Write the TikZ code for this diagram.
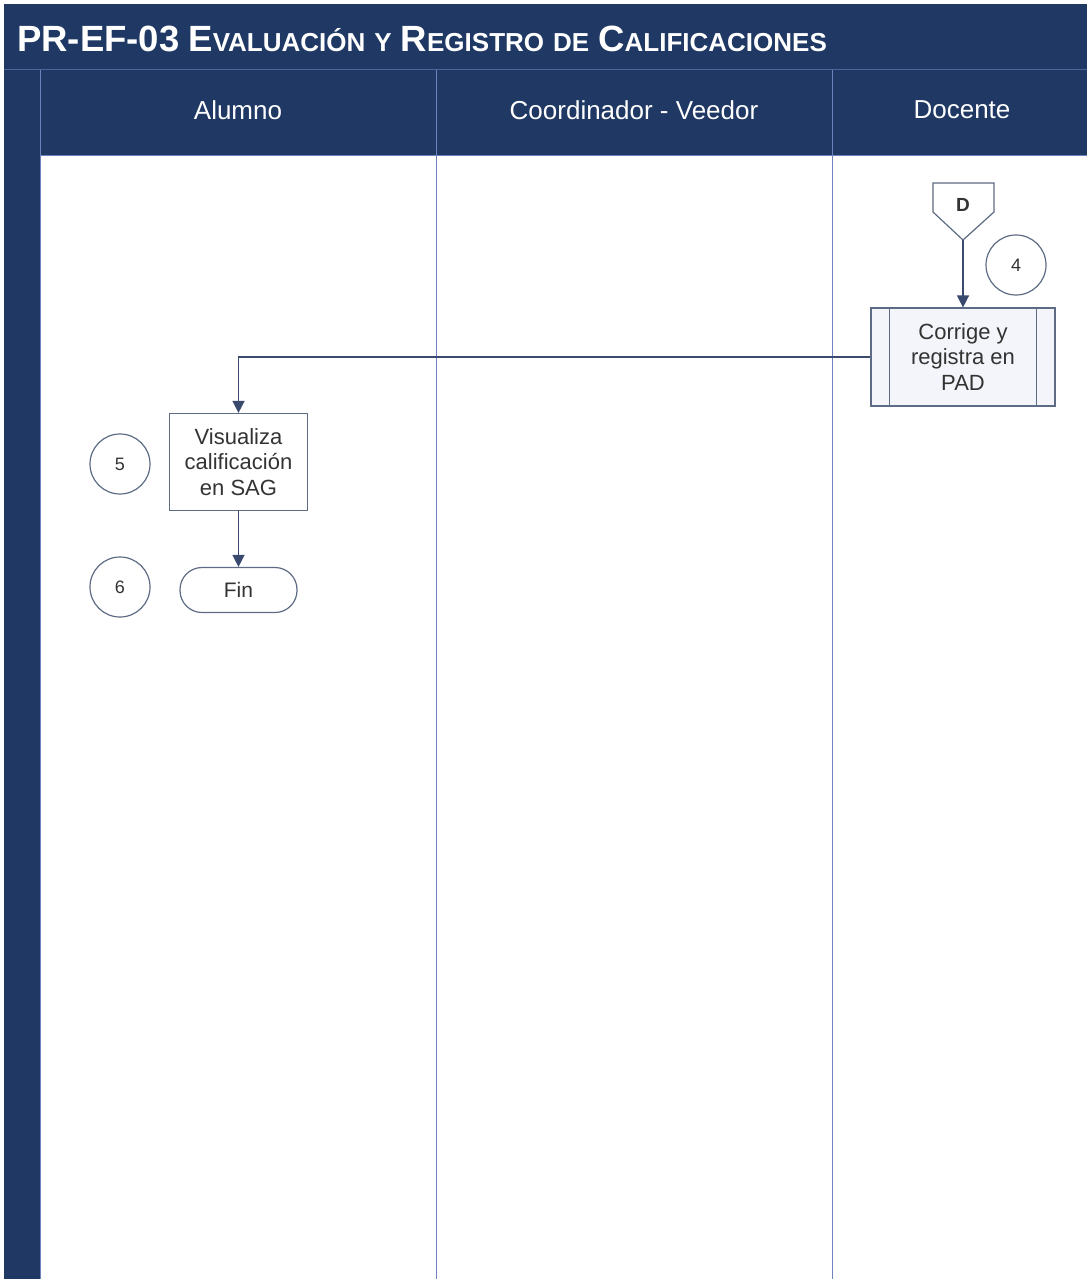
\documentclass[tikz,border=0pt]{standalone}
\usepackage{fontspec}
\setmainfont{Liberation Sans}
\usetikzlibrary{arrows.meta,shapes.geometric}
\definecolor{navy}{HTML}{1F3864}
\definecolor{lanesep}{HTML}{6F82BE}
\definecolor{boxline}{HTML}{5E6B84}
\definecolor{boxfill}{HTML}{F3F5FA}
\definecolor{flow}{HTML}{3A4A6E}
\newcommand{\scw}[2]{{\fontsize{36.5}{36.5}\selectfont #1}{\fontsize{26}{26}\selectfont #2}}
\newcommand{\tsp}{\hspace{9pt}}
\tikzset{
  lanetitle/.style={text=white,font=\fontsize{26}{26}\selectfont},
  procbox/.style={draw=boxline,line width=1.2pt,fill=white,align=center,inner sep=2pt,
    font=\fontsize{22}{25.5}\selectfont,text=black!80},
  stepnum/.style={circle,draw=boxline,line width=1.2pt,minimum size=60pt,inner sep=0pt,
    font=\fontsize{18}{18}\selectfont,text=black!80},
  flowarrow/.style={draw=flow,line width=1.4pt,-{Triangle[width=12pt,length=12pt]}},
}
\begin{document}
\begin{tikzpicture}[x=1pt,y=-1pt]
\useasboundingbox (0,0) rectangle (1087,1279);
\fill[white] (0,0) rectangle (1087,1279);
% header bands
\fill[navy] (4,4) rectangle (1087,155);
\fill[navy] (4,155) rectangle (40,1279);
\draw[lanesep!60!navy,line width=1pt] (4,70) -- (1087,70);
\draw[lanesep,line width=1pt] (40,70) -- (40,1279);
\draw[lanesep,line width=1pt] (436,70) -- (436,1279);
\draw[lanesep,line width=1pt] (832,70) -- (832,1279);
\draw[lanesep,line width=1pt] (40,155) -- (1087,155);
% title
\node[anchor=west,text=white,font=\bfseries,inner sep=0pt] (title) at (17,39)
  {\scw{PR-EF-03}{}\tsp\scw{E}{VALUACIÓN}\tsp\scw{}{Y}\tsp\scw{R}{EGISTRO}\tsp\scw{}{DE}\tsp\scw{C}{ALIFICACIONES}};
% lane titles
\node[lanetitle] (l1) at (238,110) {Alumno};
\node[lanetitle] (l2) at (634,110) {Coordinador - Veedor};
\node[lanetitle] (l3) at (962,110) {Docente};
% off-page connector D
\draw[boxline,line width=1.2pt,fill=white] (933,183) -- (994,183) -- (994,212) -- (963,240) -- (933,212) -- cycle;
\coordinate (dtip) at (963,240);
\node[font=\bfseries\fontsize{19}{19}\selectfont,text=black!80] (dlabel) at (963,205) {D};
\node[stepnum] (n4) at (1016,265) {4};
% predefined process
\node[procbox,fill=boxfill,minimum width=184pt,minimum height=98pt] (corr) at (963,357)
  {Corrige y\\registra en\\PAD};
\draw[boxline,line width=1.2pt] ([xshift=19pt]corr.north west) -- ([xshift=19pt]corr.south west);
\draw[boxline,line width=1.2pt] ([xshift=-19pt]corr.north east) -- ([xshift=-19pt]corr.south east);
\draw[flowarrow] (dtip) -- (corr.north);
% Alumno lane
\node[procbox,minimum width=138pt,minimum height=97pt] (vis) at (238.5,462)
  {Visualiza\\calificación\\en SAG};
\node[stepnum] (n5) at (120,464) {5};
\node[procbox,rounded corners=22pt,minimum width=117pt,minimum height=45pt,font=\fontsize{21}{21}\selectfont] (fin) at (238.5,590) {Fin};
\node[stepnum] (n6) at (120,587) {6};
\draw[flowarrow] (corr.west) -| (vis.north);
\draw[flowarrow] (vis.south) -- (fin.north);
\end{tikzpicture}
\end{document}
